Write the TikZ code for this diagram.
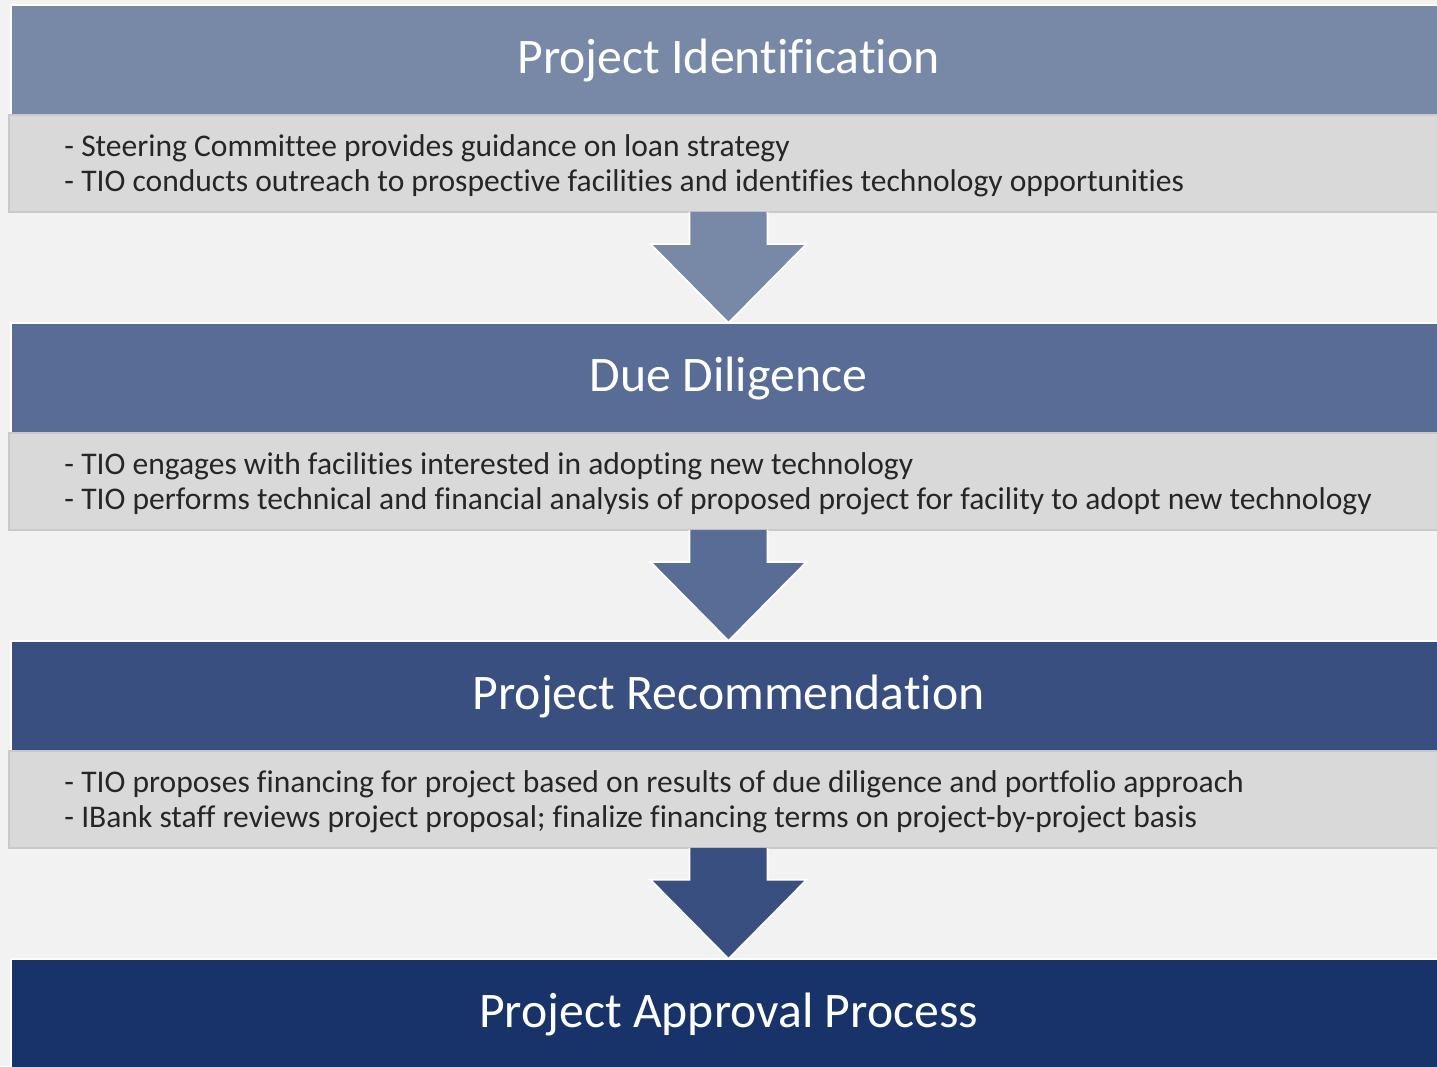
\documentclass[tikz,border=0pt]{standalone}
\usepackage{fontspec}
\setmainfont{Carlito}[Ligatures={NoCommon}]
\usetikzlibrary{positioning,calc}

\definecolor{stepA}{HTML}{7889A8}
\definecolor{stepB}{HTML}{596C95}
\definecolor{stepC}{HTML}{384F80}
\definecolor{stepD}{HTML}{18336A}
\definecolor{bandgrey}{HTML}{D9D9D9}
\definecolor{bandedge}{HTML}{C9C9C9}
\definecolor{pagegrey}{HTML}{F2F2F2}
\definecolor{bodytext}{HTML}{262626}

\begin{document}
\begin{tikzpicture}[x=0.02cm, y=-0.02cm,
  titlebar/.style={draw=white, line width=1.2pt, minimum width=28.7cm,
    minimum height=2.2cm, inner sep=0pt, outer sep=0pt, text=white,
    text height=20pt, text depth=5pt,
    font=\fontsize{28.3}{32}\selectfont},
  band/.style={fill=bandgrey, draw=bandedge, line width=0.8pt,
    minimum width=28.78cm, minimum height=1.94cm, inner sep=0pt, outer sep=0pt},
  bullets/.style={anchor=west, align=left, inner sep=0pt, text=bodytext,
    font=\fontsize{17.95}{19.8}\selectfont},
  flowarrow/.style={draw=white, line width=1pt, line join=miter}]

  % page, 1437 x 1066 px
  \fill[pagegrey] (0,0) rectangle (1437,1066);
  \useasboundingbox (0,0) rectangle (1437,1066);
  \clip (0,0) rectangle (1437,1066);

  % stages
  \node[titlebar, fill=stepA] (title1) at (728.5,60) {Project Identification};
  \node[band, below=0cm of title1] (band1) {};
  \node[titlebar, fill=stepB, below=2.22cm of band1] (title2) {Due Diligence};
  \node[band, below=0cm of title2] (band2) {};
  \node[titlebar, fill=stepC, below=2.22cm of band2] (title3) {Project Recommendation};
  \node[band, below=0cm of title3] (band3) {};
  \node[titlebar, fill=stepD, below=2.22cm of band3] (title4) {Project Approval Process};

  % bullet texts
  \node[bullets] (list1) at ($(band1.west)+(55,2)$)
    {- Steering Committee provides guidance on loan strategy\\
     - TIO conducts outreach to prospective facilities and identifies technology opportunities};
  \node[bullets] (list2) at ($(band2.west)+(55,2)$)
    {- TIO engages with facilities interested in adopting new technology\\
     - TIO performs technical and financial analysis of proposed project for facility to adopt new technology};
  \node[bullets] (list3) at ($(band3.west)+(55,2)$)
    {- TIO proposes financing for project based on results of due diligence and portfolio approach\\
     - IBank staff reviews project proposal; finalize financing terms on project-by-project basis};

  % block arrows (shaft 78 px, head 156 px)
  \foreach \from/\to/\col in {band1/title2/stepA, band2/title3/stepB, band3/title4/stepC} {
    \fill[\col] ($(\from.south)+(-39,0)$) -- ++(78,0) -- ++(0,32) -- ++(39,0)
      -- (\to.north) -- ($(\from.south)+(-78,32)$) -- ++(39,0) -- cycle;
    \draw[flowarrow] ($(\from.south)+(39,0)$) -- ++(0,32) -- ++(39,0)
      -- (\to.north) -- ($(\from.south)+(-78,32)$) -- ++(39,0) -- ++(0,-32);
  }

\end{tikzpicture}
\end{document}
